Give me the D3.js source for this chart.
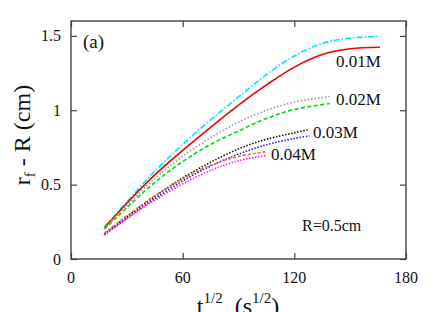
<!DOCTYPE html>
<html lang="en">
<meta charset="utf-8">
<style type="text/css">
  body { margin: 0; background: #fff; }
  svg { display: block; }
  text { font-family: "Liberation Serif", "Times New Roman", serif; fill: #111; }
  .frame { fill: none; stroke: #444; stroke-width: 1.4px; }
  .axis line { stroke: #444; stroke-width: 1.2px; }
  .curve { fill: none; stroke-width: 1.6px; }
</style>
<body>
<script src="https://d3js.org/d3.v7.min.js"></script>
<script>
// sqrt(t) sample points for each run
var tLong = [18, 30, 45, 60, 75, 90, 105, 120, 135, 150, 166];
var tMid = [18, 30, 45, 60, 75, 90, 105, 120, 139];
var tShort = [18, 30, 45, 60, 75, 90, 105, 120, 128];
var tEnd = [18, 30, 45, 60, 75, 90, 104.5];

// r_f - R values (cm)
var cyan01 = [0.215, 0.385, 0.59, 0.77, 0.935, 1.09, 1.24, 1.365, 1.45, 1.485, 1.497];
var red01 = [0.21, 0.375, 0.565, 0.73, 0.885, 1.035, 1.17, 1.29, 1.375, 1.413, 1.424];
var gray02 = [0.205, 0.36, 0.54, 0.69, 0.815, 0.92, 1.0, 1.055, 1.092];
var green02 = [0.2, 0.345, 0.515, 0.655, 0.77, 0.86, 0.945, 1.005, 1.045];
var black03 = [0.17, 0.285, 0.42, 0.545, 0.65, 0.74, 0.805, 0.848, 0.87];
var blue03 = [0.165, 0.275, 0.405, 0.525, 0.625, 0.705, 0.768, 0.81, 0.827];
var orange04 = [0.175, 0.29, 0.425, 0.54, 0.63, 0.69, 0.72];
var magenta04 = [0.16, 0.27, 0.395, 0.505, 0.595, 0.66, 0.695];

var xTicks = [0, 60, 120, 180];
var yTicks = [0, 0.5, 1, 1.5];

var series = [
  {t: tLong, v: cyan01, color: "#00e8f0", dash: "6,2,1.5,2"},
  {t: tLong, v: red01, color: "#f00000", dash: null},
  {t: tMid, v: gray02, color: "#999999", dash: "1.5,2"},
  {t: tMid, v: green02, color: "#00dd00", dash: "4,2.5"},
  {t: tShort, v: black03, color: "#111111", dash: "1.5,1.6"},
  {t: tShort, v: blue03, color: "#1a1aff", dash: "1.5,1.6"},
  {t: tEnd, v: orange04, color: "#ff6a1a", dash: "3,2"},
  {t: tEnd, v: magenta04, color: "#ff22ff", dash: "1.5,1.5"}
];

var labels = [
  {text: "0.01M", x: 336, y: 67},
  {text: "0.02M", x: 336, y: 105},
  {text: "0.03M", x: 313, y: 138},
  {text: "0.04M", x: 271, y: 160}
];

var width = 436, height = 312;
var pLeft = 71, pRight = 406, pTop = 21, pBottom = 259;

var svg = d3.select("body").append("svg")
    .attr("width", width)
    .attr("height", height);

var x = d3.scaleLinear().domain([0, 180]).range([pLeft, pRight]);
var y = d3.scaleLinear().domain([0, 1.6]).range([pBottom, pTop]);

function noDomain(g) { g.select(".domain").remove(); }

// inner ticks on all four sides, gnuplot style
svg.append("g").attr("class", "axis")
    .attr("transform", "translate(0," + pBottom + ")")
    .call(d3.axisBottom(x).tickValues(xTicks).tickSize(-6).tickFormat(""))
    .call(noDomain);
svg.append("g").attr("class", "axis")
    .attr("transform", "translate(0," + pTop + ")")
    .call(d3.axisTop(x).tickValues(xTicks).tickSize(-6).tickFormat(""))
    .call(noDomain);
svg.append("g").attr("class", "axis")
    .attr("transform", "translate(" + pLeft + ",0)")
    .call(d3.axisLeft(y).tickValues(yTicks).tickSize(-6).tickFormat(""))
    .call(noDomain);
svg.append("g").attr("class", "axis")
    .attr("transform", "translate(" + pRight + ",0)")
    .call(d3.axisRight(y).tickValues(yTicks).tickSize(-6).tickFormat(""))
    .call(noDomain);

svg.selectAll(".xlab").data(xTicks).enter().append("text")
    .attr("class", "xlab")
    .attr("x", function (d) { return x(d); })
    .attr("y", pBottom + 24)
    .attr("text-anchor", "middle")
    .style("font-size", "16px")
    .text(function (d) { return d; });

svg.selectAll(".ylab").data(yTicks).enter().append("text")
    .attr("class", "ylab")
    .attr("x", pLeft - 10)
    .attr("y", function (d) { return y(d) + 5.5; })
    .attr("text-anchor", "end")
    .style("font-size", "16px")
    .text(function (d) { return d; });

var line = d3.line()
    .x(function (d) { return x(d[0]); })
    .y(function (d) { return y(d[1]); })
    .curve(d3.curveCatmullRom);

svg.selectAll(".curve").data(series).enter().append("path")
    .attr("class", "curve")
    .attr("stroke", function (d) { return d.color; })
    .attr("stroke-dasharray", function (d) { return d.dash; })
    .attr("d", function (d) { return line(d3.zip(d.t, d.v)); });

svg.append("rect").attr("class", "frame")
    .attr("x", pLeft).attr("y", pTop)
    .attr("width", pRight - pLeft).attr("height", pBottom - pTop);

svg.selectAll(".clabel").data(labels).enter().append("text")
    .attr("class", "clabel")
    .attr("x", function (d) { return d.x; })
    .attr("y", function (d) { return d.y; })
    .style("font-size", "17px")
    .text(function (d) { return d.text; });

svg.append("text").attr("x", 83).attr("y", 48)
    .style("font-size", "19px").text("(a)");

svg.append("text").attr("x", 302).attr("y", 231)
    .style("font-size", "16px").text("R=0.5cm");

// y axis title
var yt = svg.append("text")
    .attr("transform", "translate(30,135) rotate(-90)")
    .attr("text-anchor", "middle")
    .style("font-size", "24px");
yt.append("tspan").text("r");
yt.append("tspan").attr("dy", 5).style("font-size", "15px").text("f");
yt.append("tspan").attr("dy", -5).text(" - R  (cm)");

// x axis title, cut by the bottom edge as in the original
var xt = svg.append("text")
    .attr("x", 238).attr("y", 314)
    .attr("text-anchor", "middle")
    .style("font-size", "24px");
xt.append("tspan").text("t");
xt.append("tspan").attr("dy", -11).style("font-size", "15px").text("1/2");
xt.append("tspan").attr("dy", 11).attr("xml:space", "preserve").text("  (s");
xt.append("tspan").attr("dy", -11).style("font-size", "15px").text("1/2");
xt.append("tspan").attr("dy", 11).text(")");
</script>
</body>
</html>
